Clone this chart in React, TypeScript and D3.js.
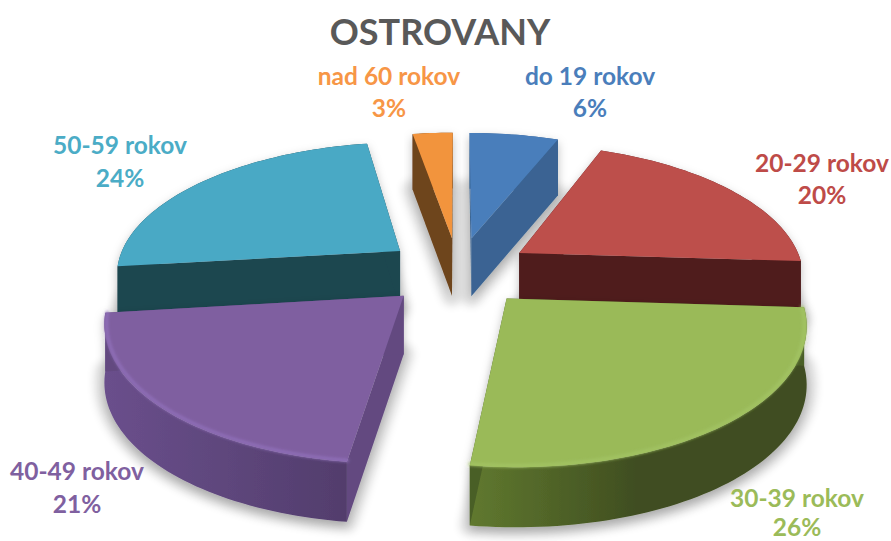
import React from "react";
import * as d3 from "d3";

const categories = ["do 19 rokov", "20-29 rokov", "30-39 rokov", "40-49 rokov", "50-59 rokov", "nad 60 rokov"];
const shares = [6, 20, 26.1, 21, 24.2, 2.7];
const topColors = ["#4a7ebb", "#bd4f4c", "#9aba59", "#7f5fa0", "#4aa9c5", "#f2943e"];
const cutColors = ["#3a6493", "#4f1e1e", "#4a5e28", "#634a80", "#1e4650", "#6e441c"];
const wallLight = ["#3a6493", "#5a2525", "#60792f", "#6a4f8c", "#1e4650", "#6e441c"];
const wallDark = ["#3a6493", "#4f1e1e", "#3f4d20", "#523d6c", "#1e4650", "#6e441c"];
const textColors = ["#4a7ebb", "#be4b48", "#9bbb59", "#7f60a0", "#4bacc6", "#f79646"];
const labelCenters: [number, number, number][] = [
  [590, 85, 117], [822, 172, 204], [797, 506.5, 536], [77, 480, 513], [120, 154, 187], [389, 85, 117],
];

const W = 891, H = 541;
const cx = 458, cy = 271, Rx = 285, Ry = 132, persp = 0.16, explode = 0.26, thick = 58;

type P = [number, number];
const project = (x: number, y: number, drop = false): P => {
  const w = 1 + persp * y;
  return [cx + (Rx * x) / w, cy - (Ry * y) / w + (drop ? thick * (1 - 0.03 * y) : 0)];
};

const arcs = d3.pie<number>().sort(null).startAngle(0).endAngle(2 * Math.PI)(shares);
const line = d3.line<P>();

const slices = arcs.map((a, i) => {
  const mid = (a.startAngle + a.endAngle) / 2;
  const ox = explode * Math.sin(mid), oy = explode * Math.cos(mid);
  const n = Math.max(6, Math.round((a.endAngle - a.startAngle) * 40));
  const angles = d3.range(n + 1).map((k) => a.startAngle + ((a.endAngle - a.startAngle) * k) / n);
  const rim = (r: number, drop: boolean) =>
    angles.map((t) => project(ox + r * Math.sin(t), oy + r * Math.cos(t), drop));
  const apexT = project(ox, oy);
  const apexB = project(ox, oy, true);
  const topRim = rim(1, false), botRim = rim(1, true);
  return {
    i, oy,
    top: line([apexT, ...topRim])! + "Z",
    floor: line([apexB, ...botRim])! + "Z",
    outer: line([...topRim, ...botRim.slice().reverse()])! + "Z",
    cutA: line([apexT, topRim[0], botRim[0], apexB])! + "Z",
    cutB: line([apexT, topRim[n], botRim[n], apexB])! + "Z",
    bevel: line(rim(0.993, false))!,
    xs: d3.extent(topRim, (p) => p[0]) as [number, number],
  };
});
const order = slices.slice().sort((a, b) => d3.descending(a.oy, b.oy));
const font = "Lato, 'Open Sans', sans-serif";

export default function App() {
  return (
    <svg width={W} height={H} viewBox={`0 0 ${W} ${H}`} style={{ position: "fixed", left: 0, top: 0, background: "#fff" }}>
      <defs>
        <filter id="soft" x="-20%" y="-20%" width="140%" height="140%">
          <feDropShadow dx="0" dy="4" stdDeviation="5" floodColor="#000" floodOpacity="0.25" />
        </filter>
        <filter id="floorBlur" x="-30%" y="-30%" width="160%" height="160%">
          <feGaussianBlur stdDeviation="4" />
        </filter>
        <filter id="blur" x="-10%" y="-10%" width="120%" height="120%">
          <feGaussianBlur stdDeviation="1.4" />
        </filter>
        {slices.map((s) => (
          <linearGradient key={s.i} id={`wall${s.i}`} gradientUnits="userSpaceOnUse"
            x1={s.xs[0]} x2={s.i === 2 ? s.xs[0] + 170 : s.xs[1]} y1="0" y2="0">
            <stop offset="0" stopColor={wallLight[s.i]} />
            <stop offset="1" stopColor={wallDark[s.i]} />
          </linearGradient>
        ))}
      </defs>
      <g filter="url(#floorBlur)" opacity={0.13}>
        {slices.map((s) => (
          <path key={s.i} d={s.floor} fill="#000" stroke="#000" strokeWidth={20} strokeLinejoin="round" />
        ))}
      </g>
      {order.map((s) => (
        <g key={s.i} filter="url(#soft)">
          <path d={s.outer} fill={`url(#wall${s.i})`} />
          <path d={s.cutA} fill={cutColors[s.i]} />
          <path d={s.cutB} fill={cutColors[s.i]} />
          <path d={s.top} fill={topColors[s.i]} />
          {(s.i === 2 || s.i === 3) && (
            <path d={s.bevel} fill="none" stroke={s.i === 3 ? "#9070ba" : "#a3c463"} strokeWidth={3}
              strokeLinecap="round" filter="url(#blur)" />
          )}
        </g>
      ))}
      <text x={440} y={45} textAnchor="middle" fontFamily={font} fontWeight={700} fontSize={36} fill="#595959">OSTROVANY</text>
      {categories.map((c, i) => (
        <g key={c} textAnchor="middle" fontFamily={font} fontWeight={700} fontSize={24.5} fill={textColors[i]}>
          <text x={labelCenters[i][0]} y={labelCenters[i][1]}>{c}</text>
          <text x={labelCenters[i][0]} y={labelCenters[i][2]}>{Math.round(shares[i])}%</text>
        </g>
      ))}
    </svg>
  );
}
